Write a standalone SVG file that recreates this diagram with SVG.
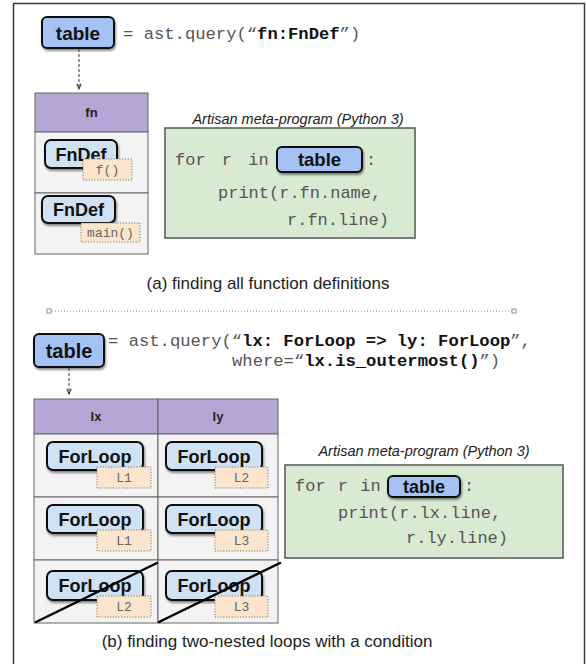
<svg xmlns="http://www.w3.org/2000/svg" width="586" height="664" viewBox="0 0 586 664">
  <defs>
    <filter id="shadow" x="-20%" y="-20%" width="150%" height="160%">
      <feDropShadow dx="1" dy="2" stdDeviation="1.2" flood-color="#000" flood-opacity="0.45"/>
    </filter>
    <marker id="arrow" viewBox="0 0 8 8" refX="7" refY="4" markerWidth="7" markerHeight="7" orient="auto" markerUnits="userSpaceOnUse">
      <path d="M1,1.5 L7,4 L1,6.5" fill="none" stroke="#333" stroke-width="1.2"/>
    </marker>
    <marker id="sq" viewBox="0 0 6 6" refX="3" refY="3" markerWidth="6" markerHeight="6" markerUnits="userSpaceOnUse">
      <rect x="1" y="1" width="4" height="4" fill="#fff" stroke="#777" stroke-width="0.8"/>
    </marker>
  </defs>
  <style>
    .frame { fill: #fff; stroke: #3a3a3a; stroke-width: 1.5; }
    .pill { fill: #a4c2f4; stroke: #111; stroke-width: 2; filter: url(#shadow); }
    .node { fill: #cfe2f3; stroke: #111; stroke-width: 2; filter: url(#shadow); }
    .tag { fill: #fce5cd; stroke: #8a7a60; stroke-width: 1; stroke-dasharray: 1.2 1.6; }
    .head { fill: #b4a7d6; stroke: #666; stroke-width: 1; }
    .cell { fill: #f3f3f3; stroke: #666; stroke-width: 1; }
    .code-box { fill: #d9ead3; stroke: #555; stroke-width: 1.5; }
    .pill-t { font-family: "Liberation Sans", Arial, sans-serif; font-weight: bold; fill: #111; text-anchor: middle; }
    .node-t { font-family: "Liberation Sans", Arial, sans-serif; font-weight: bold; font-size: 18px; fill: #111; text-anchor: middle; }
    .head-t { font-family: "Liberation Sans", Arial, sans-serif; font-weight: bold; font-size: 13px; fill: #222; text-anchor: middle; }
    .tag-t { font-family: "Liberation Mono", "Courier New", monospace; font-size: 13px; fill: #666; text-anchor: middle; }
    .mono { font-family: "Liberation Mono", "Courier New", monospace; fill: #555; }
    .b { font-weight: bold; fill: #111; }
    .title { font-family: "Liberation Sans", Arial, sans-serif; font-style: italic; font-size: 14.5px; fill: #222; text-anchor: middle; }
    .caption { font-family: "Liberation Sans", Arial, sans-serif; font-size: 17px; fill: #222; text-anchor: middle; }
    .edge { fill: none; stroke: #333; stroke-width: 1; stroke-dasharray: 3 2; }
    .sep { fill: none; stroke: #888; stroke-width: 1; stroke-dasharray: 1 2; }
    .strike { stroke: #000; stroke-width: 2.5; stroke-linecap: round; }
  </style>

  <!-- outer frame -->
  <rect class="frame" x="13.5" y="3.5" width="571" height="700"/>

  <!-- ===== (a) query for function definitions ===== -->
  <g id="query-a">
    <rect class="pill" x="42" y="17" width="72" height="31" rx="5"/>
    <text class="pill-t" x="78" y="40" font-size="19">table</text>
    <text class="mono" x="123" y="39" font-size="17.2">= ast.query(“<tspan class="b">fn:FnDef</tspan>”)</text>
  </g>

  <g id="table-a">
    <rect class="head" x="35" y="93" width="113" height="39"/>
    <text class="head-t" x="91.5" y="117">fn</text>
    <rect class="cell" x="35" y="132" width="113" height="61"/>
    <rect class="cell" x="35" y="193" width="113" height="61"/>
  </g>

  <g id="fndef-f">
    <rect class="node" x="45" y="140" width="72" height="28" rx="6"/>
    <text class="node-t" x="81" y="161" font-size="18.5">FnDef</text>
    <rect class="tag" x="83" y="159" width="49" height="21"/>
    <text class="tag-t" x="107.5" y="174">f()</text>
  </g>

  <g id="fndef-main">
    <rect class="node" x="42" y="196" width="73" height="27" rx="6"/>
    <text class="node-t" x="78.5" y="216" font-size="18.5">FnDef</text>
    <rect class="tag" x="81" y="223" width="59" height="19"/>
    <text class="tag-t" x="110.5" y="237">main()</text>
  </g>

  <g id="program-a">
    <text class="title" x="298" y="124">Artisan meta-program (Python 3)</text>
    <rect class="code-box" x="165" y="128" width="250" height="110"/>
    <text class="mono" x="175" y="165" font-size="17" word-spacing="6">for r in</text>
    <rect class="pill" x="277" y="147" width="85" height="25" rx="5"/>
    <text class="pill-t" x="319.5" y="166" font-size="18.5">table</text>
    <text class="mono" x="366" y="165" font-size="17">:</text>
    <text class="mono" x="218" y="198" font-size="17">print(r.fn.name,</text>
    <text class="mono" x="287" y="225" font-size="17">r.fn.line)</text>
  </g>

  <text class="caption" x="268" y="289">(a) finding all function definitions</text>

  <!-- separator between the two parts -->
  <line class="sep" x1="49" y1="311" x2="514" y2="311" marker-start="url(#sq)" marker-end="url(#sq)"/>

  <!-- ===== (b) query for nested loops ===== -->
  <g id="query-b">
    <rect class="pill" x="34" y="334" width="70" height="33" rx="5"/>
    <text class="pill-t" x="69" y="358" font-size="20">table</text>
    <text class="mono" x="108" y="346" font-size="17.2">= ast.query(“<tspan class="b">lx: ForLoop =&gt; ly: ForLoop</tspan>”,</text>
    <text class="mono" x="232" y="366" font-size="17.2">where=“<tspan class="b">lx.is_outermost()</tspan>”)</text>
  </g>

  <g id="table-b">
    <rect class="head" x="34" y="399" width="124" height="35"/>
    <rect class="head" x="158" y="399" width="120" height="35"/>
    <text class="head-t" x="96" y="421" font-size="14">lx</text>
    <text class="head-t" x="218" y="421" font-size="14">ly</text>
    <rect class="cell" x="34" y="434" width="124" height="63"/>
    <rect class="cell" x="158" y="434" width="120" height="63"/>
    <rect class="cell" x="34" y="497" width="124" height="63"/>
    <rect class="cell" x="158" y="497" width="120" height="63"/>
    <rect class="cell" x="34" y="560" width="124" height="63"/>
    <rect class="cell" x="158" y="560" width="120" height="63"/>
  </g>

  <g id="loop-r1-lx">
    <rect class="node" x="47" y="442" width="96" height="28" rx="6"/>
    <text class="node-t" x="95" y="463">ForLoop</text>
    <rect class="tag" x="97" y="467" width="54" height="21"/>
    <text class="tag-t" x="124" y="482">L1</text>
  </g>
  <g id="loop-r1-ly">
    <rect class="node" x="166" y="442" width="96" height="28" rx="6"/>
    <text class="node-t" x="214" y="463">ForLoop</text>
    <rect class="tag" x="215" y="467" width="53" height="21"/>
    <text class="tag-t" x="241.5" y="482">L2</text>
  </g>
  <g id="loop-r2-lx">
    <rect class="node" x="47" y="505" width="96" height="28" rx="6"/>
    <text class="node-t" x="95" y="526">ForLoop</text>
    <rect class="tag" x="97" y="530" width="54" height="21"/>
    <text class="tag-t" x="124" y="545">L1</text>
  </g>
  <g id="loop-r2-ly">
    <rect class="node" x="166" y="505" width="96" height="28" rx="6"/>
    <text class="node-t" x="214" y="526">ForLoop</text>
    <rect class="tag" x="215" y="530" width="53" height="21"/>
    <text class="tag-t" x="241.5" y="545">L3</text>
  </g>
  <g id="loop-r3-lx">
    <rect class="node" x="47" y="571" width="96" height="29" rx="6"/>
    <text class="node-t" x="95" y="592">ForLoop</text>
    <rect class="tag" x="97" y="596" width="54" height="21"/>
    <text class="tag-t" x="124" y="611">L2</text>
  </g>
  <g id="loop-r3-ly">
    <rect class="node" x="166" y="571" width="96" height="29" rx="6"/>
    <text class="node-t" x="214" y="592">ForLoop</text>
    <rect class="tag" x="215" y="596" width="53" height="21"/>
    <text class="tag-t" x="241.5" y="611">L3</text>
  </g>

  <!-- rejected row -->
  <g id="strike-outs">
    <line class="strike" x1="36" y1="622" x2="157" y2="563"/>
    <line class="strike" x1="159" y1="622" x2="280" y2="563"/>
  </g>

  <g id="program-b">
    <text class="title" x="424" y="456">Artisan meta-program (Python 3)</text>
    <rect class="code-box" x="285" y="465" width="278" height="93"/>
    <text class="mono" x="295" y="491" font-size="17" word-spacing="2">for r in</text>
    <rect class="pill" x="388" y="476" width="72" height="21" rx="5"/>
    <text class="pill-t" x="424" y="493" font-size="18">table</text>
    <text class="mono" x="464" y="491" font-size="17">:</text>
    <text class="mono" x="338" y="518" font-size="17">print(r.lx.line,</text>
    <text class="mono" x="406" y="543" font-size="17">r.ly.line)</text>
  </g>

  <text class="caption" x="267" y="647">(b) finding two-nested loops with a condition</text>

  <!-- connectors: query result to table -->
  <g id="connectors">
    <line class="edge" x1="79" y1="49" x2="79" y2="89" marker-end="url(#arrow)"/>
    <line class="edge" x1="69" y1="368" x2="69" y2="394" marker-end="url(#arrow)"/>
  </g>
</svg>
